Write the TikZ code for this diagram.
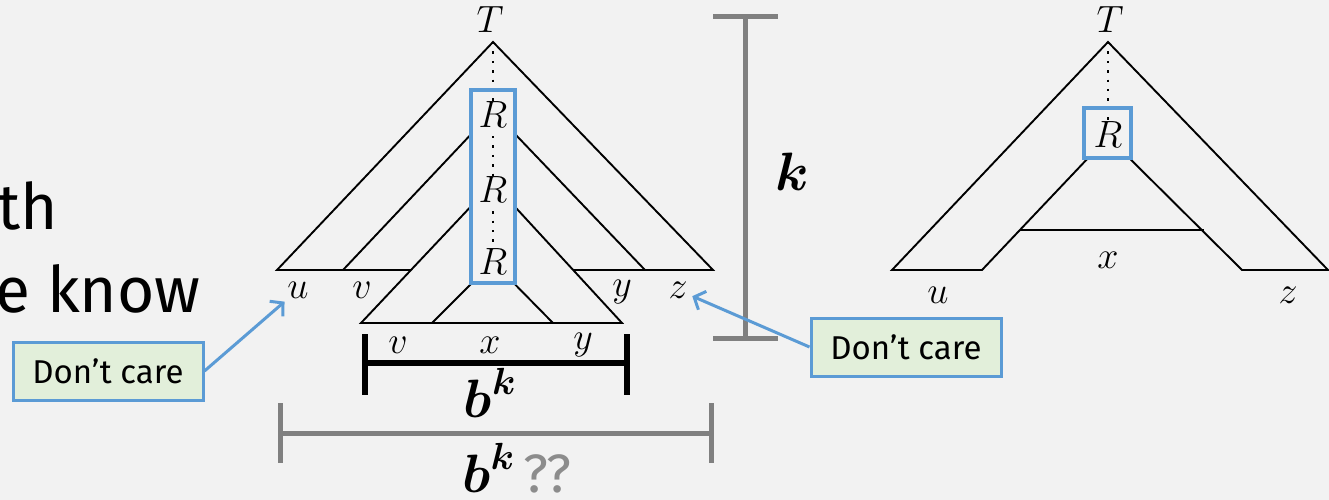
\RequirePackage{fix-cm}
\documentclass[tikz,border=0pt]{standalone}
\usepackage{amsmath}
\usepackage{fontspec}
\newfontfamily\slidefont{Fira Sans}
\usepackage{tikz}
\usetikzlibrary{arrows.meta}

\definecolor{bgcol}{HTML}{F2F2F2}
\definecolor{boxblue}{HTML}{5B9BD5}
\definecolor{notegreen}{HTML}{E2EFDA}
\definecolor{bargray}{HTML}{808080}
\definecolor{askgray}{HTML}{8C8C8C}

\begin{document}
\begin{tikzpicture}[
    x=1pt, y=-1pt,
    tri/.style={line width=1.9pt, line join=miter},
    hidetri/.style={tri, fill=bgcol},
    lbl/.style={inner sep=0pt, font=\fontsize{38}{40}\selectfont},
    rlbl/.style={lbl, fill=bgcol, inner sep=1pt},
    rframe/.style={draw=boxblue, line width=4.5pt},
    dotline/.style={line width=2.4pt, dash pattern=on 2.4pt off 7pt},
    note/.style={
        draw=boxblue,
        line width=3pt,
        fill=notegreen,
        minimum width=190pt,
        minimum height=58pt,
        inner sep=0pt,
        font=\slidefont\fontsize{33}{35}\selectfont
    },
    pointer/.style={-{Straight Barb[length=9pt,width=20pt]}, draw=boxblue, line width=3pt},
    lenbar/.style={line width=5pt, draw=bargray},
    boldlbl/.style={inner sep=0pt, font=\fontsize{54}{58}\selectfont},
    slide/.style={inner sep=0pt, anchor=base west, font=\slidefont\fontsize{64}{66}\selectfont}
]
    \fill[bgcol] (0,0) rectangle (1329,500);
    \useasboundingbox (0,0) rectangle (1329,500);

    % clipped slide text
    \node[slide] (line1) at (-3,229) {th};
    \node[slide] (line2) at (-5,312) {e know};

    % left tree
    \coordinate (topL) at (493,42);
    \draw[tri] (277,270) -- (topL) -- (713,270) -- cycle;
    \draw[tri] (343,270) -- (493,111) -- (645,270) -- cycle;
    \draw[hidetri] (361,323) -- (493,183) -- (622,323) -- cycle;
    \draw[tri] (432,323) -- (493,262) -- (553,323);
    \fill[bgcol] (471,90) rectangle (515,283);
    \draw[dotline] (topL) -- (493,262);
    \node[lbl] (tL) at (490,20) {$T$};
    \node[rlbl] (r1) at (493,115) {$R$};
    \node[rlbl] (r2) at (493,190) {$R$};
    \node[rlbl] (r3) at (493,262) {$R$};
    \draw[rframe] (471,90) rectangle (515,283);

    \node[lbl] (uL) at (298,290) {$u$};
    \node[lbl] (vL) at (362,290) {$v$};
    \node[lbl] (yL) at (622,292) {$y$};
    \node[lbl] (zL) at (678,290) {$z$};
    \node[lbl] (vB) at (398,345) {$v$};
    \node[lbl] (xB) at (490,345) {$x$};
    \node[lbl] (yB) at (583,345) {$y$};

    % b^k brackets
    \draw[line width=6pt] (365,334) -- (365,395) (627,334) -- (627,395) (365,363) -- (627,363);
    \node[boldlbl] (bk) at (490,393) {$\boldsymbol{b}^{\boldsymbol{k}}$};
    \draw[lenbar] (280,403) -- (280,463) (711,403) -- (711,463) (280,433) -- (711,433);
    \node[boldlbl] (bkq) at (517,468) {$\boldsymbol{b}^{\boldsymbol{k}}$\,\textcolor{askgray}{\slidefont\fontsize{54}{58}\selectfont ??}};

    % height k
    \draw[lenbar] (713,17) -- (778,17) (745,17) -- (745,338) (713,338) -- (778,338);
    \node[boldlbl] (kk) at (792,172) {$\boldsymbol{k}$};

    % right tree
    \coordinate (topR) at (1108,42);
    \draw[tri] (892,270) -- (982,270) -- (1108,137) -- (1242,270) -- (1328,270) -- (topR) -- cycle;
    \draw[tri] (1020,230) -- (1204,230);
    \fill[bgcol] (1084,108) rectangle (1131,158);
    \draw[dotline] (topR) -- (1108,135);
    \node[lbl] (tR) at (1110,20) {$T$};
    \node[rlbl] (rR) at (1108,135) {$R$};
    \draw[rframe] (1084,108) rectangle (1131,158);
    \node[lbl] (xR) at (1108,260) {$x$};
    \node[lbl] (uR) at (938,295) {$u$};
    \node[lbl] (zR) at (1288,295) {$z$};

    % notes
    \node[note] (careL) at (108,371) {Don’t care};
    \node[note] (careR) at (906,347) {Don’t care};
    \draw[pointer, shorten >=5pt] (careL.east) -- (uL);
    \draw[pointer, shorten >=5pt] (careR.west) -- (zL);
\end{tikzpicture}
\end{document}
